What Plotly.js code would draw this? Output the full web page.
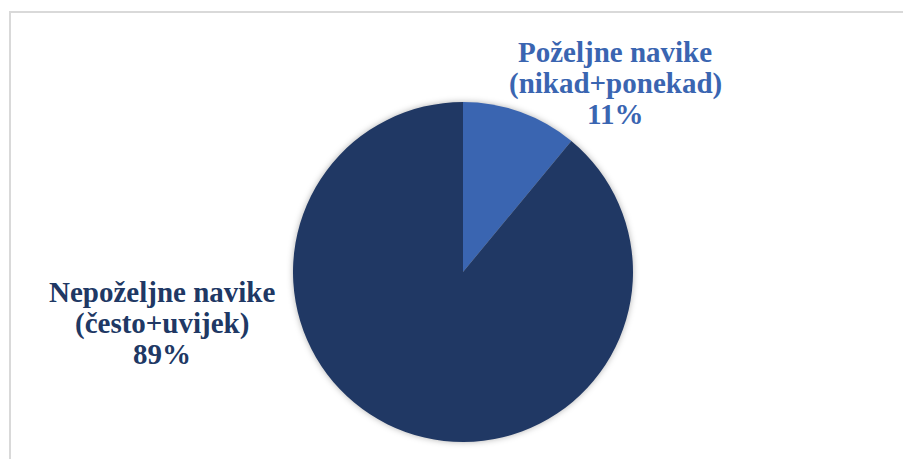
<!DOCTYPE html>
<html>
<head>
<meta charset="utf-8">
<script src="https://cdn.plot.ly/plotly-3.0.1.min.js"></script>
<style>
html,body{margin:0;padding:0;background:#fff;}
#chart{width:903px;height:459px;}
#chart .pielayer{filter:drop-shadow(0 0 3px rgba(0,0,0,0.3));}
</style>
</head>
<body>
<div id="chart"></div>
<script>
const labels = ["Poželjne navike (nikad+ponekad)", "Nepoželjne navike (često+uvijek)"];
const labelLines = [["Poželjne navike", "(nikad+ponekad)"], ["Nepoželjne navike", "(često+uvijek)"]];
const values = [11, 89];
const colors = ["#3A65B1", "#203864"];

const W = 903, H = 459;
const labelPos = [{x: 615, y: 83}, {x: 162, y: 323}];
const lineGap = 31;

const total = values.reduce((a, b) => a + b, 0);
const annotations = [];
values.forEach((v, i) => {
  const lines = labelLines[i].concat([Math.round(v / total * 100) + '%']);
  lines.forEach((t, k) => {
    annotations.push({
      xref: 'paper', yref: 'paper',
      x: labelPos[i].x / W,
      y: 1 - (labelPos[i].y + (k - 1) * lineGap) / H,
      xanchor: 'center', yanchor: 'middle',
      showarrow: false, align: 'center',
      text: '<b>' + t + '</b>',
      font: {family: 'Liberation Serif', size: 29, color: colors[i]}
    });
  });
});

const data = [{
  type: 'pie',
  labels: labels,
  values: values,
  sort: false,
  direction: 'clockwise',
  rotation: 0,
  textinfo: 'none',
  hoverinfo: 'label+percent',
  marker: {colors: colors, line: {width: 0}},
  domain: {x: [293 / W, 633 / W], y: [1 - 442 / H, 1 - 102 / H]},
  showlegend: false
}];

const layout = {
  width: W, height: H,
  margin: {l: 0, r: 0, t: 0, b: 0},
  paper_bgcolor: '#ffffff',
  showlegend: false,
  annotations: annotations,
  shapes: [{
    type: 'rect', xref: 'paper', yref: 'paper',
    x0: 10 / W, x1: 1.05, y0: -0.1, y1: 1 - 12 / H,
    line: {color: '#d9d9d9', width: 2}, fillcolor: 'rgba(0,0,0,0)', layer: 'below'
  }]
};

Plotly.newPlot('chart', data, layout, {displayModeBar: false, staticPlot: true});
</script>
</body>
</html>
